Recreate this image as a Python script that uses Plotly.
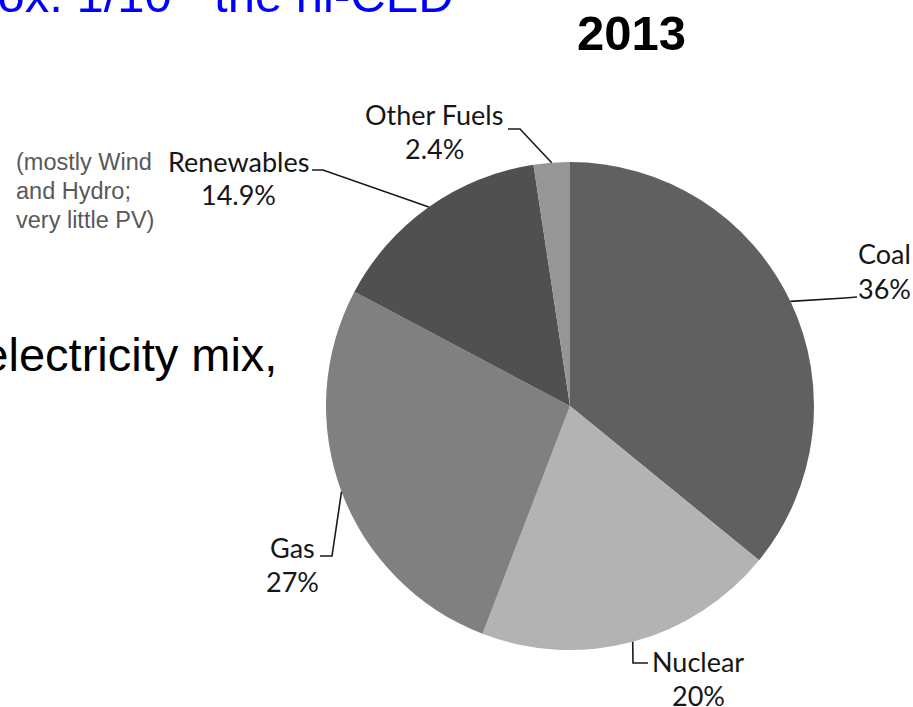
import math
import plotly.graph_objects as go

# 2013 electricity generation shares
fuels = ["Coal", "Nuclear", "Gas", "Renewables", "Other Fuels"]
shares = [36, 20, 27, 14.9, 2.4]
share_text = ["36%", "20%", "27%", "14.9%", "2.4%"]
colors = ["#606060", "#b3b3b3", "#808080", "#505050", "#969696"]

W, H = 913, 707
CX, CY, R = 570, 406, 244          # pie centre / radius in pixels

# label layout: (name centre x, name centre y, elbow point, line end point)
label_layout = {
    "Coal":        dict(x=884, y=254, elbow=(845, 298), end=(857, 297)),
    "Nuclear":     dict(x=698, y=661, elbow=(633, 663), end=(648, 663)),
    "Gas":         dict(x=292, y=547, elbow=(332, 556), end=(320, 556)),
    "Renewables":  dict(x=238, y=161, elbow=(323, 170), end=(312, 170)),
    "Other Fuels": dict(x=434, y=114, elbow=(520, 129), end=(508, 129)),
}
LINE_GAP = 34

note_lines = ["(mostly Wind", "and Hydro;", "very little PV)"]


def px(x):
    return x / W


def py(y):
    return 1 - y / H


fig = go.Figure(go.Pie(
    labels=fuels,
    values=shares,
    sort=False,
    direction="clockwise",
    rotation=0,
    textinfo="none",
    hoverinfo="label+percent",
    marker=dict(colors=colors, line=dict(width=0)),
    domain=dict(x=[px(CX - R), px(CX + R)], y=[py(CY + R), py(CY - R)]),
    showlegend=False,
))

annotations = []
shapes = []
total = sum(shares)
cum = 0.0
label_font = dict(family="Lato, Carlito, sans-serif", size=27, color="#161616")
for name, val, txt in zip(fuels, shares, share_text):
    mid = (cum + val / 2) / total * 2 * math.pi
    cum += val
    ex, ey = CX + R * math.sin(mid), CY - R * math.cos(mid)
    lay = label_layout[name]
    (bx, by), (tx, ty) = lay["elbow"], lay["end"]
    shapes.append(dict(
        type="path", xref="paper", yref="paper",
        path=f"M {px(ex)},{py(ey)} L {px(bx)},{py(by)} L {px(tx)},{py(ty)}",
        line=dict(color="#1a1a1a", width=1.6),
    ))
    annotations.append(dict(x=px(lay["x"]), y=py(lay["y"]), xref="paper", yref="paper",
                            text=name, showarrow=False, font=label_font,
                            xanchor="center", yanchor="middle"))
    annotations.append(dict(x=px(lay["x"]), y=py(lay["y"] + LINE_GAP), xref="paper", yref="paper",
                            text=txt, showarrow=False, font=label_font,
                            xanchor="center", yanchor="middle"))

# year heading
annotations.append(dict(x=px(631), y=py(33), xref="paper", yref="paper", text="<b>2013</b>",
                        showarrow=False, xanchor="center", yanchor="middle",
                        font=dict(family="Liberation Sans, Arial, sans-serif", size=49, color="#000000")))

# slide text around the chart
annotations.append(dict(x=px(456), y=py(-9), xref="paper", yref="paper",
                        text="Approx. 1/10<sup>th</sup> the hi-CED",
                        showarrow=False, xanchor="right", yanchor="middle",
                        font=dict(family="Liberation Sans, Arial, sans-serif", size=49, color="#0000ff")))
annotations.append(dict(x=px(279), y=py(354), xref="paper", yref="paper",
                        text="US electricity mix,",
                        showarrow=False, xanchor="right", yanchor="middle",
                        font=dict(family="Liberation Sans, Arial, sans-serif", size=47, color="#000000")))
for i, line in enumerate(note_lines):
    annotations.append(dict(x=px(14), y=py(162 + 29 * i), xref="paper", yref="paper",
                            text=line, showarrow=False, xanchor="left", yanchor="middle",
                            font=dict(family="Liberation Sans, Arial, sans-serif", size=23.5,
                                      color="#595959")))

fig.update_layout(
    width=W, height=H,
    margin=dict(l=0, r=0, t=0, b=0),
    paper_bgcolor="white", plot_bgcolor="white",
    annotations=annotations, shapes=shapes,
)

fig.write_html("out.html")
